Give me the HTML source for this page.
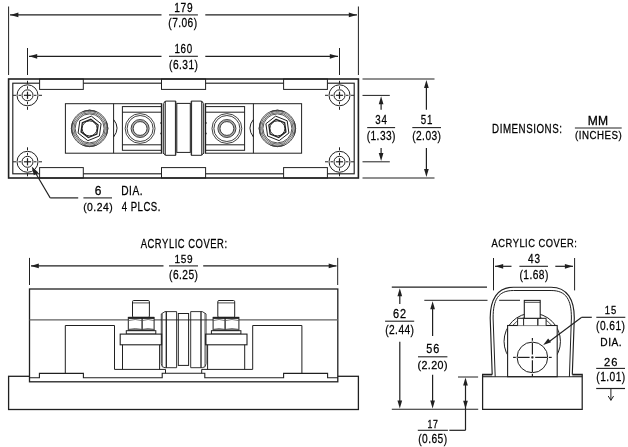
<!DOCTYPE html>
<html><head><meta charset="utf-8"><style>
html,body{margin:0;padding:0;background:#fff;overflow:hidden;width:628px;height:447px;}
svg{display:block;}
text{font-family:"Liberation Sans",sans-serif;font-kerning:none;}
svg{will-change:transform;}
</style></head><body>
<svg width="628" height="447" viewBox="0 0 628 447">
<rect x="0" y="0" width="628" height="447" fill="#fff"/>
<line x1="8.60" y1="6.50" x2="8.60" y2="75.00" stroke="#202020" stroke-width="1.0" />
<line x1="358.40" y1="6.50" x2="358.40" y2="75.00" stroke="#202020" stroke-width="1.0" />
<line x1="10.00" y1="14.90" x2="161.50" y2="14.90" stroke="#202020" stroke-width="1.35" />
<line x1="205.30" y1="14.90" x2="357.00" y2="14.90" stroke="#202020" stroke-width="1.35" />
<path d="M10.40,14.90 L18.40,12.55 L18.40,17.25 Z" fill="#202020" stroke="none"/>
<path d="M356.80,14.90 L348.80,17.25 L348.80,12.55 Z" fill="#202020" stroke="none"/>
<line x1="169.00" y1="14.90" x2="197.90" y2="14.90" stroke="#222" stroke-width="1.1" />
<text transform="translate(174.28,11.70) scale(0.8194,1)" font-size="12.35" letter-spacing="0.830" fill="#000" stroke="#000" stroke-width="0.26">179</text>
<text transform="translate(168.32,26.90) scale(0.8328,1)" font-size="12.21" letter-spacing="0.528" fill="#000" stroke="#000" stroke-width="0.26">(7.06)</text>
<line x1="27.50" y1="48.00" x2="27.50" y2="75.00" stroke="#202020" stroke-width="1.0" />
<line x1="339.50" y1="48.00" x2="339.50" y2="75.00" stroke="#202020" stroke-width="1.0" />
<line x1="29.00" y1="56.30" x2="161.50" y2="56.30" stroke="#202020" stroke-width="1.35" />
<line x1="205.30" y1="56.30" x2="338.00" y2="56.30" stroke="#202020" stroke-width="1.35" />
<path d="M29.20,56.30 L37.20,53.95 L37.20,58.65 Z" fill="#202020" stroke="none"/>
<path d="M337.80,56.30 L329.80,58.65 L329.80,53.95 Z" fill="#202020" stroke="none"/>
<line x1="169.00" y1="56.30" x2="197.90" y2="56.30" stroke="#222" stroke-width="1.1" />
<text transform="translate(174.53,53.10) scale(0.7539,1)" font-size="12.94" letter-spacing="0.874" fill="#000" stroke="#000" stroke-width="0.26">160</text>
<text transform="translate(169.06,69.10) scale(0.7807,1)" font-size="13.08" letter-spacing="0.566" fill="#000" stroke="#000" stroke-width="0.26">(6.31)</text>
<rect x="12.80" y="83.20" width="341.40" height="90.60" rx="0" stroke="#202020" stroke-width="1.15" fill="#fff"/>
<rect x="39.60" y="79.00" width="43.70" height="10.40" rx="0" stroke="#202020" stroke-width="1.0" fill="#fff"/>
<rect x="39.60" y="167.60" width="43.70" height="10.40" rx="0" stroke="#202020" stroke-width="1.0" fill="#fff"/>
<rect x="161.50" y="79.00" width="44.10" height="10.40" rx="0" stroke="#202020" stroke-width="1.0" fill="#fff"/>
<rect x="161.50" y="167.60" width="44.10" height="10.40" rx="0" stroke="#202020" stroke-width="1.0" fill="#fff"/>
<rect x="283.60" y="79.00" width="43.80" height="10.40" rx="0" stroke="#202020" stroke-width="1.0" fill="#fff"/>
<rect x="283.60" y="167.60" width="43.80" height="10.40" rx="0" stroke="#202020" stroke-width="1.0" fill="#fff"/>
<rect x="8.60" y="79.00" width="349.80" height="99.00" rx="0" stroke="#202020" stroke-width="1.6" fill="none"/>
<circle cx="27.50" cy="95.30" r="10.50" stroke="#202020" stroke-width="1.0" fill="none"/>
<circle cx="27.50" cy="95.30" r="5.50" stroke="#202020" stroke-width="1.0" fill="none"/>
<line x1="13.00" y1="95.30" x2="16.00" y2="95.30" stroke="#202020" stroke-width="1.0" />
<line x1="27.50" y1="80.80" x2="27.50" y2="83.80" stroke="#202020" stroke-width="1.0" />
<line x1="18.50" y1="95.30" x2="21.00" y2="95.30" stroke="#202020" stroke-width="1.0" />
<line x1="27.50" y1="86.30" x2="27.50" y2="88.80" stroke="#202020" stroke-width="1.0" />
<line x1="23.90" y1="95.30" x2="31.10" y2="95.30" stroke="#202020" stroke-width="1.2" />
<line x1="27.50" y1="91.70" x2="27.50" y2="98.90" stroke="#202020" stroke-width="1.2" />
<line x1="34.00" y1="95.30" x2="36.50" y2="95.30" stroke="#202020" stroke-width="1.0" />
<line x1="27.50" y1="101.80" x2="27.50" y2="104.30" stroke="#202020" stroke-width="1.0" />
<line x1="39.00" y1="95.30" x2="42.00" y2="95.30" stroke="#202020" stroke-width="1.0" />
<line x1="27.50" y1="106.80" x2="27.50" y2="109.80" stroke="#202020" stroke-width="1.0" />
<circle cx="27.50" cy="161.80" r="10.50" stroke="#202020" stroke-width="1.0" fill="none"/>
<circle cx="27.50" cy="161.80" r="5.50" stroke="#202020" stroke-width="1.0" fill="none"/>
<line x1="13.00" y1="161.80" x2="16.00" y2="161.80" stroke="#202020" stroke-width="1.0" />
<line x1="27.50" y1="147.30" x2="27.50" y2="150.30" stroke="#202020" stroke-width="1.0" />
<line x1="18.50" y1="161.80" x2="21.00" y2="161.80" stroke="#202020" stroke-width="1.0" />
<line x1="27.50" y1="152.80" x2="27.50" y2="155.30" stroke="#202020" stroke-width="1.0" />
<line x1="23.90" y1="161.80" x2="31.10" y2="161.80" stroke="#202020" stroke-width="1.2" />
<line x1="27.50" y1="158.20" x2="27.50" y2="165.40" stroke="#202020" stroke-width="1.2" />
<line x1="34.00" y1="161.80" x2="36.50" y2="161.80" stroke="#202020" stroke-width="1.0" />
<line x1="27.50" y1="168.30" x2="27.50" y2="170.80" stroke="#202020" stroke-width="1.0" />
<line x1="39.00" y1="161.80" x2="42.00" y2="161.80" stroke="#202020" stroke-width="1.0" />
<line x1="27.50" y1="173.30" x2="27.50" y2="176.30" stroke="#202020" stroke-width="1.0" />
<circle cx="339.50" cy="95.30" r="10.50" stroke="#202020" stroke-width="1.0" fill="none"/>
<circle cx="339.50" cy="95.30" r="5.50" stroke="#202020" stroke-width="1.0" fill="none"/>
<line x1="325.00" y1="95.30" x2="328.00" y2="95.30" stroke="#202020" stroke-width="1.0" />
<line x1="339.50" y1="80.80" x2="339.50" y2="83.80" stroke="#202020" stroke-width="1.0" />
<line x1="330.50" y1="95.30" x2="333.00" y2="95.30" stroke="#202020" stroke-width="1.0" />
<line x1="339.50" y1="86.30" x2="339.50" y2="88.80" stroke="#202020" stroke-width="1.0" />
<line x1="335.90" y1="95.30" x2="343.10" y2="95.30" stroke="#202020" stroke-width="1.2" />
<line x1="339.50" y1="91.70" x2="339.50" y2="98.90" stroke="#202020" stroke-width="1.2" />
<line x1="346.00" y1="95.30" x2="348.50" y2="95.30" stroke="#202020" stroke-width="1.0" />
<line x1="339.50" y1="101.80" x2="339.50" y2="104.30" stroke="#202020" stroke-width="1.0" />
<line x1="351.00" y1="95.30" x2="354.00" y2="95.30" stroke="#202020" stroke-width="1.0" />
<line x1="339.50" y1="106.80" x2="339.50" y2="109.80" stroke="#202020" stroke-width="1.0" />
<circle cx="339.50" cy="161.80" r="10.50" stroke="#202020" stroke-width="1.0" fill="none"/>
<circle cx="339.50" cy="161.80" r="5.50" stroke="#202020" stroke-width="1.0" fill="none"/>
<line x1="325.00" y1="161.80" x2="328.00" y2="161.80" stroke="#202020" stroke-width="1.0" />
<line x1="339.50" y1="147.30" x2="339.50" y2="150.30" stroke="#202020" stroke-width="1.0" />
<line x1="330.50" y1="161.80" x2="333.00" y2="161.80" stroke="#202020" stroke-width="1.0" />
<line x1="339.50" y1="152.80" x2="339.50" y2="155.30" stroke="#202020" stroke-width="1.0" />
<line x1="335.90" y1="161.80" x2="343.10" y2="161.80" stroke="#202020" stroke-width="1.2" />
<line x1="339.50" y1="158.20" x2="339.50" y2="165.40" stroke="#202020" stroke-width="1.2" />
<line x1="346.00" y1="161.80" x2="348.50" y2="161.80" stroke="#202020" stroke-width="1.0" />
<line x1="339.50" y1="168.30" x2="339.50" y2="170.80" stroke="#202020" stroke-width="1.0" />
<line x1="351.00" y1="161.80" x2="354.00" y2="161.80" stroke="#202020" stroke-width="1.0" />
<line x1="339.50" y1="173.30" x2="339.50" y2="176.30" stroke="#202020" stroke-width="1.0" />
<rect x="65.40" y="103.70" width="96.10" height="49.50" rx="0" stroke="#202020" stroke-width="1.0" fill="#fff"/>
<line x1="113.60" y1="103.70" x2="113.60" y2="153.20" stroke="#202020" stroke-width="1.0" />
<rect x="122.40" y="106.60" width="39.10" height="43.70" rx="0" stroke="#202020" stroke-width="1.0" fill="#fff"/>
<line x1="122.40" y1="112.20" x2="161.50" y2="112.20" stroke="#202020" stroke-width="1.0" />
<line x1="122.40" y1="144.80" x2="161.50" y2="144.80" stroke="#202020" stroke-width="1.0" />
<line x1="161.50" y1="103.70" x2="161.50" y2="153.20" stroke="#202020" stroke-width="1.3" />
<path d="M113.60,119.5 Q120.50,128 113.60,137" stroke="#202020" stroke-width="1.0" fill="none" />
<circle cx="161.20" cy="123.00" r="0.90" stroke="#202020" stroke-width="0" fill="#1c1c1c"/>
<circle cx="161.20" cy="133.50" r="0.90" stroke="#202020" stroke-width="0" fill="#1c1c1c"/>
<circle cx="89.60" cy="128.40" r="18.10" stroke="#2a2a2a" stroke-width="0.85" fill="none"/>
<circle cx="89.60" cy="128.40" r="16.90" stroke="#2a2a2a" stroke-width="0.7" fill="none"/>
<circle cx="89.60" cy="128.40" r="15.70" stroke="#2a2a2a" stroke-width="0.7" fill="none"/>
<circle cx="89.60" cy="128.40" r="14.50" stroke="#2a2a2a" stroke-width="0.8" fill="none"/>
<path d="M96.77,111.67 A18.70,18.70 0 0 0 82.43,111.67" stroke="#333" stroke-width="0.8" fill="none" />
<path d="M94.87,110.98 A17.40,17.40 0 0 0 84.33,110.98" stroke="#444" stroke-width="0.7" fill="none" />
<path d="M106.33,135.57 A18.70,18.70 0 0 0 106.33,121.23" stroke="#333" stroke-width="0.8" fill="none" />
<path d="M107.02,133.67 A17.40,17.40 0 0 0 107.02,123.13" stroke="#444" stroke-width="0.7" fill="none" />
<path d="M82.43,145.13 A18.70,18.70 0 0 0 96.77,145.13" stroke="#333" stroke-width="0.8" fill="none" />
<path d="M84.33,145.82 A17.40,17.40 0 0 0 94.87,145.82" stroke="#444" stroke-width="0.7" fill="none" />
<path d="M72.87,121.23 A18.70,18.70 0 0 0 72.87,135.57" stroke="#333" stroke-width="0.8" fill="none" />
<path d="M72.18,123.13 A17.40,17.40 0 0 0 72.18,133.67" stroke="#444" stroke-width="0.7" fill="none" />
<path d="M91.33,116.12 L101.10,123.75 L99.37,136.03 L87.87,140.68 L78.10,133.05 L79.83,120.77 Z" stroke="#202020" stroke-width="1.0" fill="none"/>
<path d="M90.88,119.29 L98.13,124.95 L96.85,134.06 L88.32,137.51 L81.07,131.85 L82.35,122.74 Z" stroke="#202020" stroke-width="1.3" fill="none"/>
<circle cx="89.60" cy="128.40" r="7.50" stroke="#202020" stroke-width="0.9" fill="none"/>
<circle cx="140.10" cy="128.50" r="14.90" stroke="#202020" stroke-width="0.85" fill="none"/>
<circle cx="140.10" cy="128.50" r="13.00" stroke="#202020" stroke-width="0.85" fill="none"/>
<circle cx="140.10" cy="128.50" r="7.90" stroke="#aaa" stroke-width="1.6" fill="none"/>
<circle cx="140.10" cy="128.50" r="9.00" stroke="#202020" stroke-width="0.85" fill="none"/>
<circle cx="140.10" cy="128.50" r="6.90" stroke="#202020" stroke-width="0.85" fill="none"/>
<rect x="205.50" y="103.70" width="96.10" height="49.50" rx="0" stroke="#202020" stroke-width="1.0" fill="#fff"/>
<line x1="253.40" y1="103.70" x2="253.40" y2="153.20" stroke="#202020" stroke-width="1.0" />
<rect x="205.50" y="106.60" width="39.10" height="43.70" rx="0" stroke="#202020" stroke-width="1.0" fill="#fff"/>
<line x1="205.50" y1="112.20" x2="244.60" y2="112.20" stroke="#202020" stroke-width="1.0" />
<line x1="205.50" y1="144.80" x2="244.60" y2="144.80" stroke="#202020" stroke-width="1.0" />
<line x1="205.50" y1="103.70" x2="205.50" y2="153.20" stroke="#202020" stroke-width="1.3" />
<path d="M253.40,119.5 Q246.50,128 253.40,137" stroke="#202020" stroke-width="1.0" fill="none" />
<circle cx="205.80" cy="123.00" r="0.90" stroke="#202020" stroke-width="0" fill="#1c1c1c"/>
<circle cx="205.80" cy="133.50" r="0.90" stroke="#202020" stroke-width="0" fill="#1c1c1c"/>
<circle cx="277.40" cy="128.40" r="18.10" stroke="#2a2a2a" stroke-width="0.85" fill="none"/>
<circle cx="277.40" cy="128.40" r="16.90" stroke="#2a2a2a" stroke-width="0.7" fill="none"/>
<circle cx="277.40" cy="128.40" r="15.70" stroke="#2a2a2a" stroke-width="0.7" fill="none"/>
<circle cx="277.40" cy="128.40" r="14.50" stroke="#2a2a2a" stroke-width="0.8" fill="none"/>
<path d="M284.57,111.67 A18.70,18.70 0 0 0 270.23,111.67" stroke="#333" stroke-width="0.8" fill="none" />
<path d="M282.67,110.98 A17.40,17.40 0 0 0 272.13,110.98" stroke="#444" stroke-width="0.7" fill="none" />
<path d="M294.13,135.57 A18.70,18.70 0 0 0 294.13,121.23" stroke="#333" stroke-width="0.8" fill="none" />
<path d="M294.82,133.67 A17.40,17.40 0 0 0 294.82,123.13" stroke="#444" stroke-width="0.7" fill="none" />
<path d="M270.23,145.13 A18.70,18.70 0 0 0 284.57,145.13" stroke="#333" stroke-width="0.8" fill="none" />
<path d="M272.13,145.82 A17.40,17.40 0 0 0 282.67,145.82" stroke="#444" stroke-width="0.7" fill="none" />
<path d="M260.67,121.23 A18.70,18.70 0 0 0 260.67,135.57" stroke="#333" stroke-width="0.8" fill="none" />
<path d="M259.98,123.13 A17.40,17.40 0 0 0 259.98,133.67" stroke="#444" stroke-width="0.7" fill="none" />
<path d="M275.67,116.12 L287.17,120.77 L288.90,133.05 L279.13,140.68 L267.63,136.03 L265.90,123.75 Z" stroke="#202020" stroke-width="1.0" fill="none"/>
<path d="M276.12,119.29 L284.65,122.74 L285.93,131.85 L278.68,137.51 L270.15,134.06 L268.87,124.95 Z" stroke="#202020" stroke-width="1.3" fill="none"/>
<circle cx="277.40" cy="128.40" r="7.50" stroke="#202020" stroke-width="0.9" fill="none"/>
<circle cx="226.90" cy="128.50" r="14.90" stroke="#202020" stroke-width="0.85" fill="none"/>
<circle cx="226.90" cy="128.50" r="13.00" stroke="#202020" stroke-width="0.85" fill="none"/>
<circle cx="226.90" cy="128.50" r="7.90" stroke="#aaa" stroke-width="1.6" fill="none"/>
<circle cx="226.90" cy="128.50" r="9.00" stroke="#202020" stroke-width="0.85" fill="none"/>
<circle cx="226.90" cy="128.50" r="6.90" stroke="#202020" stroke-width="0.85" fill="none"/>
<path d="M163.30,154 L163.30,103.5 L165.50,101.1 L175.80,101.1 L175.80,155.3 L165.50,155.3 L163.30,153 " stroke="#202020" stroke-width="1.0" fill="#fff" />
<line x1="165.20" y1="101.10" x2="165.20" y2="155.30" stroke="#202020" stroke-width="1.1" />
<line x1="175.40" y1="101.10" x2="175.40" y2="155.30" stroke="#202020" stroke-width="0.8" />
<path d="M203.70,154 L203.70,103.5 L201.50,101.1 L191.20,101.1 L191.20,155.3 L201.50,155.3 L203.70,153 " stroke="#202020" stroke-width="1.0" fill="#fff" />
<line x1="201.80" y1="101.10" x2="201.80" y2="155.30" stroke="#202020" stroke-width="1.1" />
<line x1="191.60" y1="101.10" x2="191.60" y2="155.30" stroke="#202020" stroke-width="0.8" />
<rect x="176.80" y="103.40" width="13.50" height="49.00" rx="0" stroke="#202020" stroke-width="1.0" fill="#fff"/>
<line x1="362.50" y1="79.00" x2="434.50" y2="79.00" stroke="#202020" stroke-width="1.1" />
<line x1="362.50" y1="178.00" x2="434.50" y2="178.00" stroke="#202020" stroke-width="1.1" />
<line x1="362.50" y1="95.40" x2="389.80" y2="95.40" stroke="#202020" stroke-width="1.0" />
<line x1="362.50" y1="161.80" x2="389.80" y2="161.80" stroke="#202020" stroke-width="1.0" />
<line x1="381.10" y1="100.00" x2="381.10" y2="109.70" stroke="#202020" stroke-width="1.2" />
<path d="M381.10,96.30 L383.45,104.30 L378.75,104.30 Z" fill="#202020" stroke="none"/>
<line x1="381.10" y1="147.90" x2="381.10" y2="157.00" stroke="#202020" stroke-width="1.2" />
<path d="M381.10,160.90 L378.75,152.90 L383.45,152.90 Z" fill="#202020" stroke="none"/>
<line x1="426.40" y1="84.00" x2="426.40" y2="109.70" stroke="#202020" stroke-width="1.2" />
<path d="M426.40,80.00 L428.75,88.00 L424.05,88.00 Z" fill="#202020" stroke="none"/>
<line x1="426.40" y1="147.90" x2="426.40" y2="172.00" stroke="#202020" stroke-width="1.2" />
<path d="M426.40,177.00 L424.05,169.00 L428.75,169.00 Z" fill="#202020" stroke="none"/>
<line x1="367.20" y1="127.60" x2="395.10" y2="127.60" stroke="#222" stroke-width="1.1" />
<text transform="translate(375.19,124.40) scale(0.7539,1)" font-size="12.94" letter-spacing="1.175" fill="#000" stroke="#000" stroke-width="0.26">34</text>
<text transform="translate(366.66,140.40) scale(0.7807,1)" font-size="13.08" letter-spacing="0.566" fill="#000" stroke="#000" stroke-width="0.26">(1.33)</text>
<line x1="412.30" y1="127.60" x2="441.00" y2="127.60" stroke="#222" stroke-width="1.1" />
<text transform="translate(420.79,124.40) scale(0.7539,1)" font-size="12.94" letter-spacing="1.151" fill="#000" stroke="#000" stroke-width="0.26">51</text>
<text transform="translate(412.16,140.40) scale(0.7807,1)" font-size="13.08" letter-spacing="0.566" fill="#000" stroke="#000" stroke-width="0.26">(2.03)</text>
<text transform="translate(492.05,132.60) scale(0.7718,1)" font-size="12.65" letter-spacing="0.708" fill="#000" stroke="#000" stroke-width="0.26">DIMENSIONS:</text>
<line x1="574.90" y1="128.00" x2="621.70" y2="128.00" stroke="#222" stroke-width="1.1" />
<text transform="translate(587.86,124.60) scale(1.0044,1)" font-size="12.06" letter-spacing="0.000" fill="#000" stroke="#000" stroke-width="0.26">MM</text>
<text transform="translate(575.05,139.40) scale(0.8771,1)" font-size="11.05" letter-spacing="0.593" fill="#000" stroke="#000" stroke-width="0.26">(INCHES)</text>
<line x1="33.00" y1="168.80" x2="50.20" y2="197.90" stroke="#202020" stroke-width="1.1" />
<line x1="50.20" y1="197.90" x2="78.20" y2="197.90" stroke="#202020" stroke-width="1.2" />
<path d="M31.70,166.60 L38.31,172.55 L33.85,175.22 Z" fill="#202020" stroke="none"/>
<line x1="83.40" y1="197.90" x2="112.00" y2="197.90" stroke="#222" stroke-width="1.1" />
<text transform="translate(94.74,195.00) scale(0.9880,1)" font-size="12.06" letter-spacing="0.000" fill="#000" stroke="#000" stroke-width="0.26">6</text>
<text transform="translate(83.21,210.60) scale(0.9405,1)" font-size="11.05" letter-spacing="0.478" fill="#000" stroke="#000" stroke-width="0.26">(0.24)</text>
<text transform="translate(121.22,194.90) scale(0.8337,1)" font-size="12.21" letter-spacing="0.627" fill="#000" stroke="#000" stroke-width="0.26">DIA.</text>
<text transform="translate(121.63,210.60) scale(0.7870,1)" font-size="12.21" letter-spacing="0.639" fill="#000" stroke="#000" stroke-width="0.26">4 PLCS.</text>
<text transform="translate(140.63,247.80) scale(0.7910,1)" font-size="11.92" letter-spacing="0.666" fill="#000" stroke="#000" stroke-width="0.26">ACRYLIC COVER:</text>
<line x1="29.50" y1="257.90" x2="29.50" y2="285.00" stroke="#202020" stroke-width="1.0" />
<line x1="337.70" y1="257.90" x2="337.70" y2="285.00" stroke="#202020" stroke-width="1.0" />
<line x1="31.00" y1="265.90" x2="163.50" y2="265.90" stroke="#202020" stroke-width="1.35" />
<line x1="203.20" y1="265.90" x2="336.50" y2="265.90" stroke="#202020" stroke-width="1.35" />
<path d="M30.80,265.90 L38.80,263.55 L38.80,268.25 Z" fill="#202020" stroke="none"/>
<path d="M336.70,265.90 L328.70,268.25 L328.70,263.55 Z" fill="#202020" stroke="none"/>
<line x1="169.00" y1="265.90" x2="198.00" y2="265.90" stroke="#222" stroke-width="1.1" />
<text transform="translate(174.48,262.90) scale(0.8655,1)" font-size="11.63" letter-spacing="0.781" fill="#000" stroke="#000" stroke-width="0.26">159</text>
<text transform="translate(169.06,278.70) scale(0.7807,1)" font-size="13.08" letter-spacing="0.566" fill="#000" stroke="#000" stroke-width="0.26">(6.25)</text>
<rect x="8.60" y="376.30" width="349.80" height="33.20" rx="0" stroke="#202020" stroke-width="1.3" fill="#fff"/>
<rect x="29.50" y="289.00" width="308.30" height="92.80" rx="0" stroke="#202020" stroke-width="1.3" fill="#fff"/>
<line x1="29.50" y1="319.90" x2="338.00" y2="319.90" stroke="#606060" stroke-width="1.3" />
<path d="M29.50,377.70 L39.40,377.70 L39.40,373.40 L83.40,373.40 L83.40,377.70 L162.20,377.70 L162.20,373.30 L204.80,373.30 L204.80,377.70 L283.60,377.70 L283.60,373.40 L327.60,373.40 L327.60,377.70 L338.00,377.70" stroke="#202020" stroke-width="1.1" fill="none"/>
<path d="M65.30,373.40 L65.30,325.50 L114.50,325.50 L114.50,369.40 L165.50,369.40 L165.50,373.30" stroke="#202020" stroke-width="1.0" fill="none"/>
<rect x="132.50" y="300.50" width="16.90" height="16.90" rx="1.2" stroke="#202020" stroke-width="1.0" fill="#fff"/>
<line x1="132.50" y1="302.90" x2="149.40" y2="302.90" stroke="#202020" stroke-width="0.8" />
<rect x="128.30" y="317.40" width="25.80" height="13.30" rx="0" stroke="#202020" stroke-width="1.0" fill="#fff"/>
<line x1="128.30" y1="317.90" x2="154.10" y2="317.90" stroke="#202020" stroke-width="2.0" />
<line x1="128.30" y1="330.30" x2="154.10" y2="330.30" stroke="#202020" stroke-width="1.8" />
<line x1="142.10" y1="317.40" x2="142.10" y2="330.70" stroke="#202020" stroke-width="1.3" />
<path d="M128.30,320.6 Q135.20,318.4 142.10,320.6" stroke="#555" stroke-width="0.8" fill="none" />
<path d="M128.30,329.4 Q135.20,327.6 142.10,329.4" stroke="#555" stroke-width="0.8" fill="none" />
<path d="M142.10,320.6 Q148.10,318.4 154.10,320.6" stroke="#555" stroke-width="0.8" fill="none" />
<path d="M142.10,329.4 Q148.10,327.6 154.10,329.4" stroke="#555" stroke-width="0.8" fill="none" />
<rect x="126.30" y="330.70" width="29.50" height="3.40" rx="0" stroke="#202020" stroke-width="1.0" fill="#fff"/>
<rect x="120.20" y="334.10" width="41.50" height="10.70" rx="0" stroke="#202020" stroke-width="1.1" fill="#fff"/>
<path d="M122.50,344.80 L122.50,369.40" stroke="#202020" stroke-width="1.0" fill="none"/>
<path d="M159.60,344.80 L159.60,369.40" stroke="#202020" stroke-width="1.0" fill="none"/>
<path d="M301.90,373.40 L301.90,325.50 L252.70,325.50 L252.70,369.40 L201.70,369.40 L201.70,373.30" stroke="#202020" stroke-width="1.0" fill="none"/>
<rect x="217.80" y="300.50" width="16.90" height="16.90" rx="1.2" stroke="#202020" stroke-width="1.0" fill="#fff"/>
<line x1="234.70" y1="302.90" x2="217.80" y2="302.90" stroke="#202020" stroke-width="0.8" />
<rect x="213.10" y="317.40" width="25.80" height="13.30" rx="0" stroke="#202020" stroke-width="1.0" fill="#fff"/>
<line x1="238.90" y1="317.90" x2="213.10" y2="317.90" stroke="#202020" stroke-width="2.0" />
<line x1="238.90" y1="330.30" x2="213.10" y2="330.30" stroke="#202020" stroke-width="1.8" />
<line x1="225.10" y1="317.40" x2="225.10" y2="330.70" stroke="#202020" stroke-width="1.3" />
<path d="M238.90,320.6 Q232.00,318.4 225.10,320.6" stroke="#555" stroke-width="0.8" fill="none" />
<path d="M238.90,329.4 Q232.00,327.6 225.10,329.4" stroke="#555" stroke-width="0.8" fill="none" />
<path d="M225.10,320.6 Q219.10,318.4 213.10,320.6" stroke="#555" stroke-width="0.8" fill="none" />
<path d="M225.10,329.4 Q219.10,327.6 213.10,329.4" stroke="#555" stroke-width="0.8" fill="none" />
<rect x="211.40" y="330.70" width="29.50" height="3.40" rx="0" stroke="#202020" stroke-width="1.0" fill="#fff"/>
<rect x="205.50" y="334.10" width="41.50" height="10.70" rx="0" stroke="#202020" stroke-width="1.1" fill="#fff"/>
<path d="M244.70,344.80 L244.70,369.40" stroke="#202020" stroke-width="1.0" fill="none"/>
<path d="M207.60,344.80 L207.60,369.40" stroke="#202020" stroke-width="1.0" fill="none"/>
<path d="M161.30,363.7 L161.30,313.9 L165.00,311.6 L176.60,311.6 L176.60,367.7 L165.00,367.7 Q161.30,367.7 161.30,363.7" stroke="#202020" stroke-width="0.9" fill="none" />
<line x1="162.50" y1="313.20" x2="162.50" y2="366.20" stroke="#555" stroke-width="0.7" />
<line x1="166.30" y1="311.60" x2="166.30" y2="367.70" stroke="#202020" stroke-width="1.3" />
<path d="M206.00,363.7 L206.00,313.9 L202.30,311.6 L190.70,311.6 L190.70,367.7 L202.30,367.7 Q206.00,367.7 206.00,363.7" stroke="#202020" stroke-width="0.9" fill="none" />
<line x1="204.80" y1="313.20" x2="204.80" y2="366.20" stroke="#555" stroke-width="0.7" />
<line x1="201.00" y1="311.60" x2="201.00" y2="367.70" stroke="#202020" stroke-width="1.3" />
<rect x="178.30" y="313.50" width="10.30" height="51.90" rx="0" stroke="#202020" stroke-width="1.0" fill="none"/>
<text transform="translate(491.43,247.40) scale(0.8568,1)" font-size="10.90" letter-spacing="0.609" fill="#000" stroke="#000" stroke-width="0.26">ACRYLIC COVER:</text>
<line x1="493.50" y1="258.00" x2="493.50" y2="290.40" stroke="#202020" stroke-width="1.0" />
<line x1="574.60" y1="258.00" x2="574.60" y2="290.40" stroke="#202020" stroke-width="1.0" />
<line x1="495.00" y1="266.30" x2="511.50" y2="266.30" stroke="#202020" stroke-width="1.2" />
<line x1="555.30" y1="266.30" x2="573.00" y2="266.30" stroke="#202020" stroke-width="1.2" />
<path d="M495.20,266.30 L503.20,263.95 L503.20,268.65 Z" fill="#202020" stroke="none"/>
<path d="M572.90,266.30 L564.90,268.65 L564.90,263.95 Z" fill="#202020" stroke="none"/>
<line x1="519.40" y1="266.30" x2="548.00" y2="266.30" stroke="#222" stroke-width="1.1" />
<text transform="translate(528.02,263.20) scale(0.8145,1)" font-size="12.21" letter-spacing="1.110" fill="#000" stroke="#000" stroke-width="0.26">43</text>
<text transform="translate(519.46,279.10) scale(0.7807,1)" font-size="13.08" letter-spacing="0.566" fill="#000" stroke="#000" stroke-width="0.26">(1.68)</text>
<circle cx="532.25" cy="341.40" r="28.20" stroke="#202020" stroke-width="1.0" fill="none"/>
<path d="M512.6,325.5 A25.6,25.6 0 0 1 551.9,325.5" stroke="#202020" stroke-width="0.8" fill="none" />
<rect x="507.60" y="325.50" width="49.60" height="51.20" rx="0" stroke="#202020" stroke-width="1.1" fill="#fff"/>
<path d="M517.60,325.50 L517.60,318.30 L546.10,318.30 L546.10,325.50" stroke="#202020" stroke-width="1.0" fill="#fff"/>
<line x1="523.60" y1="318.30" x2="523.60" y2="325.50" stroke="#202020" stroke-width="1.0" />
<line x1="537.80" y1="318.30" x2="537.80" y2="325.50" stroke="#202020" stroke-width="1.3" />
<rect x="524.30" y="300.40" width="15.90" height="17.90" rx="0" stroke="#202020" stroke-width="1.1" fill="#fff"/>
<line x1="524.30" y1="302.30" x2="540.20" y2="302.30" stroke="#202020" stroke-width="0.8" />
<circle cx="532.40" cy="357.40" r="15.30" stroke="#202020" stroke-width="1.0" fill="none"/>
<line x1="513.10" y1="357.40" x2="515.80" y2="357.40" stroke="#202020" stroke-width="1.2" />
<line x1="532.40" y1="338.10" x2="532.40" y2="340.80" stroke="#202020" stroke-width="1.2" />
<line x1="517.80" y1="357.40" x2="529.60" y2="357.40" stroke="#202020" stroke-width="1.2" />
<line x1="532.40" y1="342.80" x2="532.40" y2="354.60" stroke="#202020" stroke-width="1.2" />
<line x1="531.40" y1="357.40" x2="533.40" y2="357.40" stroke="#202020" stroke-width="1.5" />
<line x1="532.40" y1="356.40" x2="532.40" y2="358.40" stroke="#202020" stroke-width="1.5" />
<line x1="535.20" y1="357.40" x2="547.00" y2="357.40" stroke="#202020" stroke-width="1.2" />
<line x1="532.40" y1="360.20" x2="532.40" y2="372.00" stroke="#202020" stroke-width="1.2" />
<line x1="549.00" y1="357.40" x2="551.70" y2="357.40" stroke="#202020" stroke-width="1.2" />
<line x1="532.40" y1="374.00" x2="532.40" y2="376.70" stroke="#202020" stroke-width="1.2" />
<rect x="482.6" y="374.4" width="9.6" height="2.4" fill="#9a9a9a"/>
<rect x="572.3" y="374.4" width="9.9" height="2.4" fill="#9a9a9a"/>
<path d="M492.20,374.40 L482.60,374.40 L482.60,409.40 L582.20,409.40 L582.20,374.40 L572.30,374.40" stroke="#202020" stroke-width="1.25" fill="none"/>
<line x1="482.60" y1="376.80" x2="582.20" y2="376.80" stroke="#202020" stroke-width="1.1" />
<path d="M492.2,374.4 L490.2,318 C490.2,300 497,287.2 513.4,287.2 L551.1,287.2 C567.5,287.2 574.3,300 574.3,318 L572.3,374.4" stroke="#202020" stroke-width="1.15" fill="none" />
<path d="M495.2,376.8 L493.1,318 C493.1,300 498,290.5 513.4,290.5 L551.1,290.5 C566.5,290.5 571.4,300 571.4,318 L569.4,376.8" stroke="#202020" stroke-width="1.0" fill="none" />
<line x1="391.80" y1="287.10" x2="487.00" y2="287.10" stroke="#202020" stroke-width="1.1" />
<line x1="424.30" y1="300.30" x2="487.50" y2="300.30" stroke="#202020" stroke-width="1.0" />
<line x1="499.10" y1="300.30" x2="520.00" y2="300.30" stroke="#202020" stroke-width="1.0" />
<line x1="391.80" y1="409.30" x2="478.20" y2="409.30" stroke="#202020" stroke-width="1.1" />
<line x1="458.00" y1="377.00" x2="478.10" y2="377.00" stroke="#202020" stroke-width="1.0" />
<line x1="399.80" y1="292.00" x2="399.80" y2="303.90" stroke="#202020" stroke-width="1.2" />
<path d="M399.80,288.20 L402.15,296.20 L397.45,296.20 Z" fill="#202020" stroke="none"/>
<line x1="399.80" y1="341.80" x2="399.80" y2="404.00" stroke="#202020" stroke-width="1.2" />
<path d="M399.80,408.60 L397.45,400.60 L402.15,400.60 Z" fill="#202020" stroke="none"/>
<line x1="385.10" y1="321.20" x2="414.20" y2="321.20" stroke="#222" stroke-width="1.1" />
<text transform="translate(392.90,318.20) scale(0.8942,1)" font-size="12.21" letter-spacing="1.074" fill="#000" stroke="#000" stroke-width="0.26">62</text>
<text transform="translate(385.16,334.00) scale(0.7807,1)" font-size="13.08" letter-spacing="0.566" fill="#000" stroke="#000" stroke-width="0.26">(2.44)</text>
<line x1="432.60" y1="305.00" x2="432.60" y2="335.90" stroke="#202020" stroke-width="1.2" />
<path d="M432.60,301.20 L434.95,309.20 L430.25,309.20 Z" fill="#202020" stroke="none"/>
<line x1="432.60" y1="374.80" x2="432.60" y2="404.00" stroke="#202020" stroke-width="1.2" />
<path d="M432.60,408.60 L430.25,400.60 L434.95,400.60 Z" fill="#202020" stroke="none"/>
<line x1="418.00" y1="356.80" x2="447.40" y2="356.80" stroke="#222" stroke-width="1.1" />
<text transform="translate(426.32,353.40) scale(0.8973,1)" font-size="12.06" letter-spacing="1.079" fill="#000" stroke="#000" stroke-width="0.26">56</text>
<text transform="translate(417.39,368.60) scale(0.9547,1)" font-size="11.19" letter-spacing="0.484" fill="#000" stroke="#000" stroke-width="0.26">(2.20)</text>
<line x1="465.50" y1="382.00" x2="465.50" y2="430.30" stroke="#202020" stroke-width="1.2" />
<path d="M465.50,377.60 L467.85,385.60 L463.15,385.60 Z" fill="#202020" stroke="none"/>
<path d="M465.50,408.80 L463.15,400.80 L467.85,400.80 Z" fill="#202020" stroke="none"/>
<line x1="449.30" y1="430.30" x2="465.50" y2="430.30" stroke="#202020" stroke-width="1.2" />
<line x1="417.80" y1="430.30" x2="447.90" y2="430.30" stroke="#222" stroke-width="1.1" />
<text transform="translate(427.48,427.70) scale(0.8156,1)" font-size="10.76" letter-spacing="0.922" fill="#000" stroke="#000" stroke-width="0.26">17</text>
<text transform="translate(418.26,443.10) scale(0.7807,1)" font-size="13.08" letter-spacing="0.566" fill="#000" stroke="#000" stroke-width="0.26">(0.65)</text>
<line x1="549.00" y1="341.80" x2="581.70" y2="317.30" stroke="#202020" stroke-width="1.1" />
<line x1="581.70" y1="317.30" x2="591.80" y2="317.30" stroke="#202020" stroke-width="1.2" />
<path d="M543.20,345.10 L548.16,338.38 L551.04,342.22 Z" fill="#202020" stroke="none"/>
<line x1="596.30" y1="317.30" x2="625.30" y2="317.30" stroke="#222" stroke-width="1.1" />
<text transform="translate(604.83,314.40) scale(0.9020,1)" font-size="10.47" letter-spacing="0.905" fill="#000" stroke="#000" stroke-width="0.26">15</text>
<text transform="translate(596.06,330.10) scale(0.7807,1)" font-size="13.08" letter-spacing="0.566" fill="#000" stroke="#000" stroke-width="0.26">(0.61)</text>
<text transform="translate(600.32,345.70) scale(0.9464,1)" font-size="10.76" letter-spacing="0.552" fill="#000" stroke="#000" stroke-width="0.26">DIA.</text>
<line x1="596.20" y1="368.40" x2="625.00" y2="368.40" stroke="#222" stroke-width="1.1" />
<text transform="translate(604.09,365.70) scale(0.9559,1)" font-size="11.63" letter-spacing="1.029" fill="#000" stroke="#000" stroke-width="0.26">26</text>
<text transform="translate(596.36,381.20) scale(0.7807,1)" font-size="13.08" letter-spacing="0.566" fill="#000" stroke="#000" stroke-width="0.26">(1.01)</text>
<line x1="596.20" y1="388.50" x2="625.00" y2="388.50" stroke="#202020" stroke-width="1.2" />
<path d="M610.90,388.50 L610.90,400.30" stroke="#202020" stroke-width="1.0" fill="none"/>
<path d="M608.20,396.00 L610.90,400.30 L613.60,396.00" stroke="#202020" stroke-width="1.0" fill="none"/>
</svg></body></html>
